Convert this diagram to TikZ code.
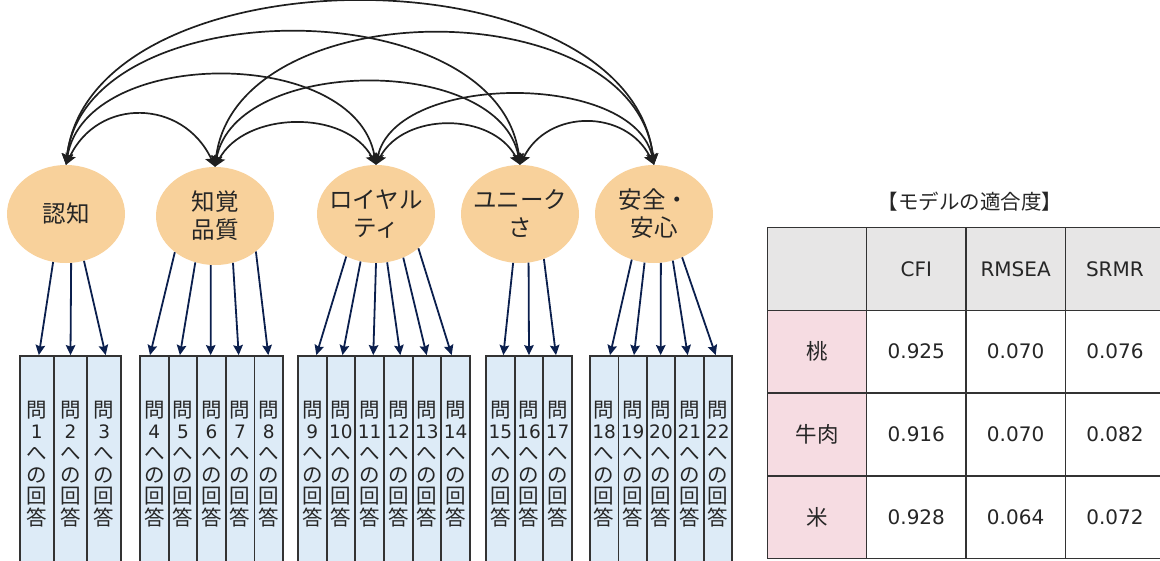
\documentclass[tikz,border=0pt]{standalone}
\usepackage{fontspec}
\setmainfont{Noto Sans CJK JP}
\newfontfamily\lat{DejaVu Sans}
\usetikzlibrary{arrows.meta,shapes.geometric}
\definecolor{peach}{HTML}{F8D19B}
\definecolor{cellblue}{HTML}{DDEBF7}
\definecolor{navy}{HTML}{0B1F4D}
\definecolor{ink}{HTML}{262626}
\definecolor{hdrgray}{HTML}{E7E6E6}
\definecolor{rowpink}{HTML}{F6DCE2}
\definecolor{edgegray}{HTML}{333333}
\begin{document}
\begin{tikzpicture}[x=1pt,y=-1pt,
  factor/.style={ellipse, fill=peach, minimum width=118pt, minimum height=98pt, inner sep=0pt},
  ftext/.style={text=ink, align=center, inner sep=0pt, font=\fontsize{23.5}{28}\selectfont},
  item/.style={rectangle, draw=edgegray, line width=1.8pt, fill=cellblue, minimum height=216pt, inner sep=0pt, text=ink, align=center, font=\fontsize{20.5}{21.6}\selectfont},
  corr/.style={line width=1.7pt, draw=black!88, arrows={Stealth[length=11pt,width=11pt,inset=2pt]-Stealth[length=11pt,width=11pt,inset=2pt]}},
  load/.style={line width=1.8pt, draw=navy, arrows={-Stealth[length=10pt,width=9.5pt,inset=1.5pt]}},
  tcell/.style={rectangle, draw=edgegray, line width=1.5pt, minimum width=99.3pt, minimum height=82.7pt, inner sep=0pt, text=ink, font=\fontsize{20}{24}\selectfont},
  tjp/.style={font=\fontsize{21.5}{24}\selectfont},
  ttitle/.style={text=ink, inner sep=0pt, font=\fontsize{20.5}{24}\selectfont}
]
\useasboundingbox (0,0) rectangle (1160,560);
\clip (0,0) rectangle (1160,560);

% factors
\node[factor] (e1) at (66,214) {};
\node[factor] (e2) at (215,216) {};
\node[factor] (e3) at (376,214) {};
\node[factor] (e4) at (520,214) {};
\node[factor] (e5) at (654,214) {};
\node[ftext] (e1t) at (e1) {認知};
\node[ftext] (e2t) at (e2) {知覚\\品質};
\node[ftext] (e3t) at (e3) {ロイヤル\\ティ};
\node[ftext] (e4t) at (e4) {ユニーク\\さ};
\node[ftext] (e5t) at (e5) {安全・\\安心};

% correlations
\draw[corr] (e1.north) .. controls +(32,-68) and +(-32,-68) .. (e2.north);
\draw[corr] (e2.north) .. controls +(30,-56) and +(-30,-56) .. (e3.north);
\draw[corr] (e3.north) .. controls +(28,-53) and +(-28,-53) .. (e4.north);
\draw[corr] (e4.north) .. controls +(28,-56) and +(-28,-56) .. (e5.north);
\draw[corr] (e1.north) .. controls +(20,-119) and +(-20,-119) .. (e3.north);
\draw[corr] (e2.north) .. controls +(20,-111) and +(-20,-111) .. (e4.north);
\draw[corr] (e3.north) .. controls +(20,-93) and +(-20,-93) .. (e5.north);
\draw[corr] (e1.north) .. controls +(20,-176) and +(-20,-176) .. (e4.north);
\draw[corr] (e2.north) .. controls +(20,-176) and +(-20,-176) .. (e5.north);
\draw[corr] (e1.north) .. controls +(25,-217) and +(-25,-217) .. (e5.north);

% items
\foreach \n/\x in {1/36.83, 2/70.5, 3/104.17}
  \node[item, minimum width=33.67pt] (q\n) at (\x,464) {問\\{\lat\fontsize{18.5}{21.6}\selectfont\n}\\へ\\の\\回\\答};
\foreach \n/\x in {4/154.3, 5/182.9, 6/211.5, 7/240.1, 8/268.7}
  \node[item, minimum width=28.6pt] (q\n) at (\x,464) {問\\{\lat\fontsize{18.5}{21.6}\selectfont\n}\\へ\\の\\回\\答};
\foreach \n/\x in {9/312.33, 10/341, 11/369.67, 12/398.33, 13/427, 14/455.67}
  \node[item, minimum width=28.67pt] (q\n) at (\x,464) {問\\{\lat\fontsize{18.5}{21.6}\selectfont\n}\\へ\\の\\回\\答};
\foreach \n/\x in {15/500.33, 16/529, 17/557.67}
  \node[item, minimum width=28.67pt] (q\n) at (\x,464) {問\\{\lat\fontsize{18.5}{21.6}\selectfont\n}\\へ\\の\\回\\答};
\foreach \n/\x in {18/604.2, 19/632.6, 20/661, 21/689.4, 22/717.8}
  \node[item, minimum width=28.4pt] (q\n) at (\x,464) {問\\{\lat\fontsize{18.5}{21.6}\selectfont\n}\\へ\\の\\回\\答};

% loadings
\draw[load] (e1.-105) -- ([xshift=2pt]q1.north);
\draw[load] (e1.-84) -- ([xshift=0pt]q2.north);
\draw[load] (e1.-69) -- ([xshift=1.5pt]q3.north);

\draw[load] (e2.-138) -- ([xshift=-4.3pt]q4.north);
\draw[load] (e2.-113) -- ([xshift=-3pt]q5.north);
\draw[load] (e2.-95) -- ([xshift=-0.8pt]q6.north);
\draw[load] (e2.-69) -- ([xshift=-1.4pt]q7.north);
\draw[load] (e2.-41) -- ([xshift=-0.4pt]q8.north);

\draw[load] (e3.-125) -- ([xshift=4pt]q9.north);
\draw[load] (e3.-108) -- ([xshift=1.5pt]q10.north);
\draw[load] (e3.-90) -- ([xshift=3.6pt]q11.north);
\draw[load] (e3.-77) -- ([xshift=2pt]q12.north);
\draw[load] (e3.-58) -- ([xshift=-0.3pt]q13.north);
\draw[load] (e3.-39) -- ([xshift=-4pt]q14.north);

\draw[load] (e4.-98) -- ([xshift=3pt]q15.north);
\draw[load] (e4.-80) -- ([xshift=0pt]q16.north);
\draw[load] (e4.-62) -- ([xshift=-1.7pt]q17.north);

\draw[load] (e5.-116) -- ([xshift=5.8pt]q18.north);
\draw[load] (e5.-101) -- ([xshift=1.4pt]q19.north);
\draw[load] (e5.-82) -- ([xshift=-0.3pt]q20.north);
\draw[load] (e5.-68) -- ([xshift=-1.7pt]q21.north);
\draw[load] (e5.-57) -- ([xshift=-2.1pt]q22.north);

% fit table
\node[ttitle] (title) at (970,202) {【モデルの適合度】};
\node[tcell, fill=hdrgray] (t00) at (817,269) {};
\node[tcell, fill=hdrgray] (t01) at (916.3,269) {\lat CFI};
\node[tcell, fill=hdrgray] (t02) at (1015.6,269) {\lat RMSEA};
\node[tcell, fill=hdrgray] (t03) at (1114.9,269) {\lat SRMR};
\node[tcell, tjp, fill=rowpink] (t10) at (817,351.7) {桃};
\node[tcell, fill=white] (t11) at (916.3,351.7) {\lat 0.925};
\node[tcell, fill=white] (t12) at (1015.6,351.7) {\lat 0.070};
\node[tcell, fill=white] (t13) at (1114.9,351.7) {\lat 0.076};
\node[tcell, tjp, fill=rowpink] (t20) at (817,434.4) {牛肉};
\node[tcell, fill=white] (t21) at (916.3,434.4) {\lat 0.916};
\node[tcell, fill=white] (t22) at (1015.6,434.4) {\lat 0.070};
\node[tcell, fill=white] (t23) at (1114.9,434.4) {\lat 0.082};
\node[tcell, tjp, fill=rowpink] (t30) at (817,517.1) {米};
\node[tcell, fill=white] (t31) at (916.3,517.1) {\lat 0.928};
\node[tcell, fill=white] (t32) at (1015.6,517.1) {\lat 0.064};
\node[tcell, fill=white] (t33) at (1114.9,517.1) {\lat 0.072};
\end{tikzpicture}
\end{document}
